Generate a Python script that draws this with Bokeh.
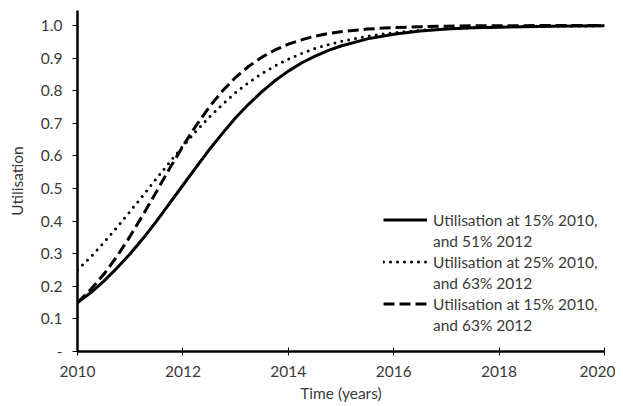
from bokeh.plotting import figure
from bokeh.models import Range1d, FixedTicker, PrintfTickFormatter, Legend, LegendItem
from bokeh.embed import file_html
from bokeh.resources import INLINE

years = [2010, 2010.25, 2010.5, 2010.75, 2011, 2011.25, 2011.5, 2011.75,
         2012, 2012.25, 2012.5, 2012.75, 2013, 2013.25, 2013.5, 2013.75,
         2014, 2014.25, 2014.5, 2014.75, 2015, 2015.5, 2016, 2016.5,
         2017, 2017.5, 2018, 2019, 2020]

util_15_51 = [0.150, 0.180, 0.216, 0.256, 0.300, 0.348, 0.400, 0.455,
              0.510, 0.565, 0.619, 0.669, 0.717, 0.759, 0.797, 0.831,
              0.860, 0.885, 0.905, 0.923, 0.937, 0.959, 0.973, 0.983,
              0.989, 0.993, 0.995, 0.998, 0.999]

util_25_63 = [0.250, 0.290, 0.334, 0.381, 0.430, 0.480, 0.531, 0.581,
              0.630, 0.676, 0.719, 0.758, 0.794, 0.825, 0.853, 0.876,
              0.897, 0.914, 0.929, 0.941, 0.951, 0.967, 0.978, 0.985,
              0.990, 0.993, 0.996, 0.998, 0.999]

util_15_63 = [0.150, 0.190, 0.237, 0.292, 0.354, 0.421, 0.491, 0.562,
              0.630, 0.693, 0.750, 0.799, 0.841, 0.875, 0.903, 0.925,
              0.943, 0.956, 0.967, 0.975, 0.981, 0.989, 0.994, 0.996,
              0.998, 0.999, 0.999, 1.000, 1.000]

label_lines = [("Utilisation at 15% 2010,", "and 51% 2012"),
               ("Utilisation at 25% 2010,", "and 63% 2012"),
               ("Utilisation at 15% 2010,", "and 63% 2012")]

x_ticks = [2010, 2012, 2014, 2016, 2018, 2020]
y_ticks = [0.0, 0.1, 0.2, 0.3, 0.4, 0.5, 0.6, 0.7, 0.8, 0.9, 1.0]

FONT = "Lato"
TXT = "#3a3a3a"
FS = "15.5px"

p = figure(width=615, height=404, output_backend="svg", toolbar_location=None,
           x_range=Range1d(2010, 2020), y_range=Range1d(0, 1.046),
           min_border_left=77, min_border_right=11, min_border_top=10,
           min_border_bottom=53)
p.outline_line_color = None
p.xgrid.grid_line_color = None
p.ygrid.grid_line_color = None

r1 = p.line(years, util_15_51, line_color="black", line_width=3)
r2 = p.line(years, util_25_63, line_color="black", line_width=3,
            line_dash="0 7", line_cap="round")
r3 = p.line(years, util_15_63, line_color="black", line_width=3,
            line_dash="11 5")
# invisible renderer used only for the second line of each legend label
blank = p.line([], [], line_alpha=0)

for ax in (p.xaxis[0], p.yaxis[0]):
    ax.axis_line_color = "black"
    ax.axis_line_width = 2.5
    ax.major_tick_line_color = "black"
    ax.major_tick_line_width = 1
    ax.minor_tick_line_color = None
    ax.major_label_text_font = FONT
    ax.major_label_text_font_size = FS
    ax.major_label_text_color = TXT
    ax.axis_label_text_font = FONT
    ax.axis_label_text_font_size = FS
    ax.axis_label_text_font_style = "normal"
    ax.axis_label_text_color = TXT

p.xaxis.ticker = FixedTicker(ticks=x_ticks)
p.xaxis.major_tick_in = 4
p.xaxis.major_tick_out = 4
p.xaxis.major_label_standoff = 10
p.xaxis.axis_label = "Time (years)"
p.xaxis.axis_label_standoff = 4

p.yaxis.ticker = FixedTicker(ticks=y_ticks)
p.yaxis.formatter = PrintfTickFormatter(format="%.1f")
p.yaxis.major_label_overrides = {0: "-"}
p.yaxis.major_tick_in = 0
p.yaxis.major_tick_out = 5
p.yaxis.major_label_standoff = 10
p.yaxis.axis_label = "Utilisation"
p.yaxis.axis_label_standoff = 12

items = []
for (l1, l2), r in zip(label_lines, (r1, r2, r3)):
    items.append(LegendItem(label=l1, renderers=[r]))
    items.append(LegendItem(label=l2, renderers=[blank]))

legend = Legend(items=items, location=(306, 16))
legend.background_fill_alpha = 0
legend.border_line_color = None
legend.label_text_font = FONT
legend.label_text_font_size = FS
legend.label_text_color = TXT
legend.glyph_width = 44
legend.glyph_height = 21
legend.label_height = 21
legend.spacing = 0
legend.padding = 0
legend.margin = 0
legend.label_standoff = 6
p.add_layout(legend)

open("out.html", "w").write(file_html(p, INLINE))
